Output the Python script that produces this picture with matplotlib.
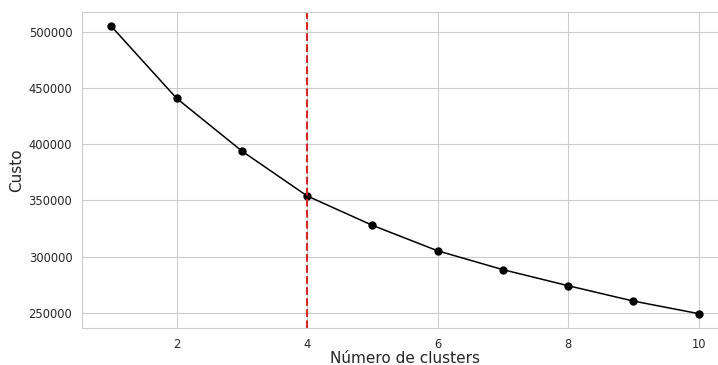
import numpy as np
import matplotlib.pyplot as plt
import seaborn as sns

sns.set_style('whitegrid')

n_clusters = [1, 2, 3, 4, 5, 6, 7, 8, 9, 10]
custo = [505100, 441000, 394000, 354000, 327800, 305100, 288300, 274000, 260300, 249100]
k_escolhido = 4

fig = plt.figure(figsize=(7.18, 3.65), dpi=100)
ax = fig.add_axes([82/718, 1 - 328/365, 646/718, 316/365])

ax.plot(n_clusters, custo, color='black', marker='o', markersize=5, linewidth=1.1)
ax.axvline(k_escolhido, color='#d62728', linestyle='--', linewidth=1.5)

ax.set_xlim(0.55, 10.45)
ax.set_xticks([2, 4, 6, 8, 10])
ax.set_yticks([250000, 300000, 350000, 400000, 450000, 500000])
ax.tick_params(labelsize=8.3, colors='#262626', pad=3.5)

ax.set_xlabel('Número de clusters', fontsize=11, labelpad=0)
ax.set_ylabel('Custo', fontsize=11, labelpad=3)

plt.savefig('out.png', dpi=100)
